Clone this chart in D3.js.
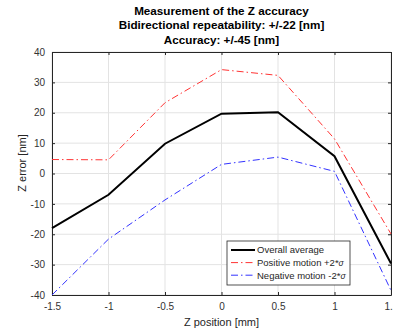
<!DOCTYPE html>
<html>
<head>
<meta charset="utf-8">
<script src="https://cdn.jsdelivr.net/npm/d3@7"></script>
<style>
  body { margin: 0; background: #fff; }
  svg { display: block; font-family: "Liberation Sans", Arial, sans-serif; }
</style>
</head>
<body>
<div id="chart"></div>
<script>
// data
const zPos = [-1.5, -1, -0.5, 0, 0.5, 1, 1.5]
const average = [-18, -7, 9.8, 19.7, 20.2, 5.7, -29.6]
const positive = [4.6, 4.5, 23.3, 34.2, 32.3, 11.4, -19.9]
const negative = [-40, -21.6, -8.7, 3.0, 5.4, 0.7, -38.5]
const xTicks = [-1.5, -1, -0.5, 0, 0.5, 1, 1.5]
const yTicks = [-40, -30, -20, -10, 0, 10, 20, 30, 40]
const titleLines = ["Measurement of the Z accuracy", "Bidirectional repeatability: +/-22 [nm]", "Accuracy: +/-45 [nm]"]

const W = 393, H = 331
const margin = {top: 52, right: 2, bottom: 36, left: 52}
const width = W - margin.left - margin.right
const height = H - margin.top - margin.bottom

const svg = d3.select("#chart").append("svg")
    .attr("width", W)
    .attr("height", H)

const g = svg.append("g")
    .attr("transform", `translate(${margin.left}, ${margin.top})`)

//escalas
const x = d3.scaleLinear().domain([-1.5, 1.5]).range([0, width])
const y = d3.scaleLinear().domain([-40, 40]).range([height, 0])

//grid
g.append("g").selectAll("line")
    .data(xTicks)
    .enter().append("line")
    .attr("x1", d => x(d)).attr("x2", d => x(d))
    .attr("y1", 0).attr("y2", height)
    .attr("stroke", "#e3e3e3")
g.append("g").selectAll("line")
    .data(yTicks)
    .enter().append("line")
    .attr("y1", d => y(d)).attr("y2", d => y(d))
    .attr("x1", 0).attr("x2", width)
    .attr("stroke", "#e3e3e3")

//ejes
const fmt = d => d3.format("")(d).replace("−", "-")
g.append("g")
    .attr("transform", `translate(0, ${height})`)
    .call(d3.axisBottom(x).tickValues(xTicks).tickSizeInner(-3).tickSizeOuter(0).tickPadding(8).tickFormat(fmt))
g.append("g")
    .call(d3.axisLeft(y).tickValues(yTicks).tickSizeInner(-3).tickSizeOuter(0).tickPadding(7).tickFormat(fmt))
// caja arriba / derecha
g.append("g")
    .call(d3.axisTop(x).tickValues(xTicks).tickSizeInner(-3).tickSizeOuter(0).tickFormat(""))
g.append("g")
    .attr("transform", `translate(${width}, 0)`)
    .call(d3.axisRight(y).tickValues(yTicks).tickSizeInner(-3).tickSizeOuter(0).tickFormat(""))

g.selectAll(".domain, .tick line").attr("stroke", "#262626")
g.selectAll(".tick text").attr("fill", "#333").style("font-size", "10px")
    .style("font-family", "Liberation Sans, Arial, sans-serif")

//lineas
const series = [
    {name: "Overall average", values: average, color: "#000", width: 2, dash: null},
    {name: "Positive motion +2*", values: positive, color: "#ff3333", width: 1, dash: "7,3,1.5,3"},
    {name: "Negative motion -2*", values: negative, color: "#3333ff", width: 1, dash: "7,3,1.5,3"}
]
const line = d3.line().x((d, i) => x(zPos[i])).y(d => y(d))

g.selectAll("path.series")
    .data(series)
    .enter().append("path")
    .attr("class", "series")
    .attr("d", d => line(d.values))
    .attr("fill", "none")
    .attr("stroke", d => d.color)
    .attr("stroke-width", d => d.width)
    .attr("stroke-dasharray", d => d.dash)

//titulo
svg.append("g").selectAll("text")
    .data(titleLines)
    .enter().append("text")
    .attr("x", margin.left + width / 2)
    .attr("y", (d, i) => 15 + i * 14.3)
    .attr("text-anchor", "middle")
    .style("font-size", "11.7px")
    .style("font-weight", "bold")
    .attr("fill", "#000")
    .text(d => d)

//etiquetas de ejes
svg.append("text")
    .attr("x", margin.left + width / 2)
    .attr("y", 326)
    .attr("text-anchor", "middle")
    .style("font-size", "11px")
    .attr("fill", "#262626")
    .text("Z position [mm]")
svg.append("text")
    .attr("transform", `translate(26, 163) rotate(-90)`)
    .attr("text-anchor", "middle")
    .style("font-size", "11px")
    .attr("fill", "#262626")
    .text("Z error [nm]")

//leyenda
const leg = svg.append("g").attr("transform", "translate(227, 241)")
leg.append("rect")
    .attr("width", 123).attr("height", 44)
    .attr("fill", "#fff").attr("stroke", "#262626").attr("stroke-width", 0.8)
const items = leg.selectAll("g.item")
    .data(series)
    .enter().append("g")
    .attr("class", "item")
    .attr("transform", (d, i) => `translate(0, ${9 + i * 12.6})`)
items.append("line")
    .attr("x1", 4).attr("x2", 28)
    .attr("stroke", d => d.color)
    .attr("stroke-width", d => d.width)
    .attr("stroke-dasharray", d => d.dash)
const labels = items.append("text")
    .attr("x", 30).attr("dy", "0.35em")
    .style("font-size", "9.5px")
    .attr("fill", "#262626")
    .text(d => d.name)
labels.filter((d, i) => i > 0)
    .append("tspan")
    .style("font-style", "italic")
    .style("font-size", "8.5px")
    .text("σ")
</script>
</body>
</html>
